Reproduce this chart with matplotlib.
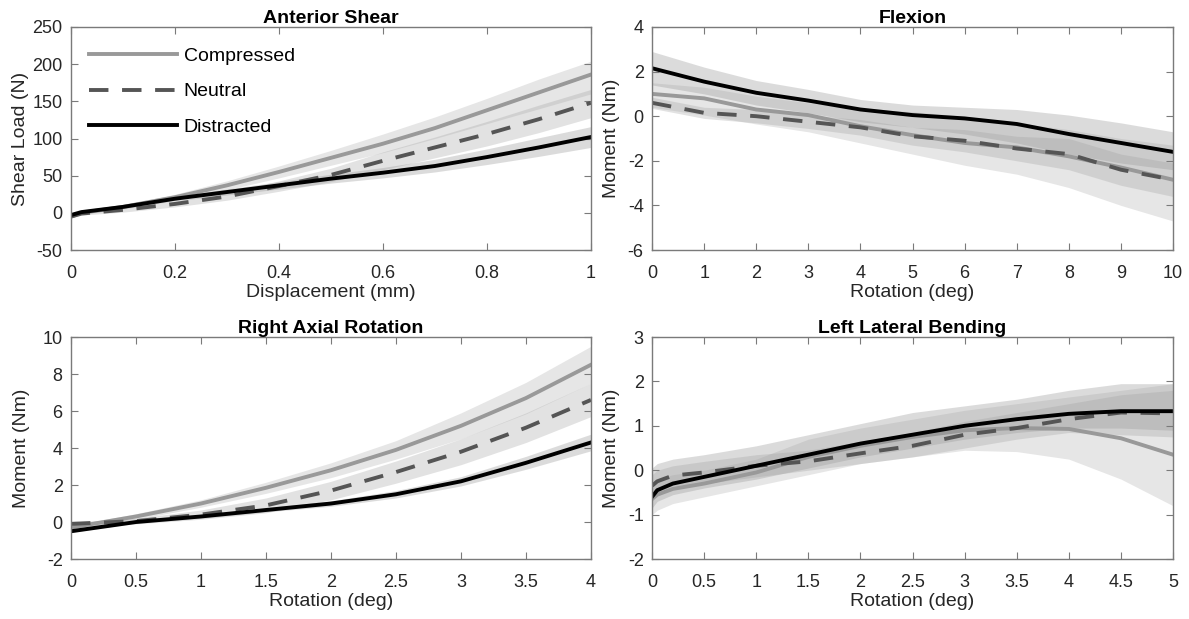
import matplotlib
matplotlib.use("Agg")
import matplotlib.pyplot as plt
import numpy as np

plt.rcParams['font.family'] = ['Liberation Sans', 'DejaVu Sans']

# ---------------- Data ----------------
labels = ["Compressed", "Neutral", "Distracted"]

# Anterior Shear
shear_x = [0, 0.02, 0.1, 0.2, 0.3, 0.4, 0.5, 0.6, 0.7, 0.8, 0.9, 1.0]
shear_comp = [-5, 0, 8, 21, 37, 55, 74, 93, 114, 138, 162, 186]
shear_comp_lo = [-7, -2, 5, 17, 31, 47, 64, 81, 100, 120, 140, 160]
shear_comp_hi = [-3, 2, 11, 25, 43, 63, 84, 106, 129, 154, 180, 204]
shear_neut = [-5, -1, 4, 12, 22, 36, 51, 70, 88, 106, 126, 148]
shear_neut_lo = [-7, -3, 1, 8, 17, 29, 42, 58, 74, 90, 108, 128]
shear_neut_hi = [-3, 1, 7, 16, 27, 43, 60, 82, 102, 123, 145, 166]
shear_dist = [-3, 1, 8, 19, 28, 37, 46, 54, 63, 75, 88, 102]
shear_dist_lo = [-5, -1, 6, 16, 24, 32, 40, 47, 55, 65, 76, 88]
shear_dist_hi = [-1, 3, 10, 22, 32, 42, 52, 61, 72, 86, 101, 116]

# Flexion
flex_x = [0, 1, 2, 3, 4, 5, 6, 7, 8, 9, 10]
flex_comp = [1.0, 0.8, 0.3, 0.05, -0.45, -0.85, -1.2, -1.4, -1.8, -2.3, -2.85]
flex_comp_lo = [0.4, 0.05, -0.35, -0.7, -1.2, -1.7, -2.2, -2.6, -3.2, -4.0, -4.7]
flex_comp_hi = [1.5, 1.3, 0.9, 0.6, 0.35, 0.2, 0.0, -0.3, -0.6, -1.0, -1.3]
flex_neut = [0.6, 0.15, 0.0, -0.25, -0.5, -0.9, -1.1, -1.45, -1.7, -2.4, -2.85]
flex_neut_lo = [0.35, -0.1, -0.3, -0.55, -0.85, -1.3, -1.6, -2.0, -2.4, -3.1, -3.6]
flex_neut_hi = [0.85, 0.4, 0.3, 0.05, -0.15, -0.5, -0.6, -0.9, -1.0, -1.7, -2.1]
flex_dist = [2.15, 1.55, 1.05, 0.7, 0.3, 0.05, -0.1, -0.35, -0.8, -1.2, -1.6]
flex_dist_lo = [1.4, 1.0, 0.5, 0.15, -0.25, -0.5, -0.8, -1.2, -1.7, -2.1, -2.4]
flex_dist_hi = [2.9, 2.2, 1.6, 1.2, 0.75, 0.5, 0.4, 0.3, 0.05, -0.3, -0.7]

# Right Axial Rotation
rot_x = [0, 0.5, 1, 1.5, 2, 2.5, 3, 3.5, 4]
rot_comp = [-0.3, 0.3, 1.0, 1.85, 2.8, 3.9, 5.2, 6.7, 8.5]
rot_comp_lo = [-0.4, 0.15, 0.8, 1.55, 2.4, 3.4, 4.5, 5.85, 7.5]
rot_comp_hi = [-0.2, 0.45, 1.2, 2.15, 3.2, 4.4, 5.9, 7.55, 9.5]
rot_neut = [-0.1, 0.05, 0.4, 0.9, 1.7, 2.7, 3.8, 5.1, 6.6]
rot_neut_lo = [-0.2, -0.1, 0.15, 0.5, 1.2, 2.1, 3.1, 4.3, 5.7]
rot_neut_hi = [0.0, 0.2, 0.65, 1.3, 2.2, 3.3, 4.5, 5.9, 7.5]
rot_dist = [-0.5, 0.0, 0.3, 0.65, 1.0, 1.5, 2.2, 3.2, 4.3]
rot_dist_lo = [-0.55, -0.05, 0.2, 0.55, 0.85, 1.3, 1.95, 2.85, 3.85]
rot_dist_hi = [-0.45, 0.05, 0.4, 0.75, 1.15, 1.7, 2.45, 3.55, 4.75]

# Left Lateral Bending
bend_x = [0, 0.05, 0.2, 0.5, 1, 1.5, 2, 2.5, 3, 3.5, 4, 4.5, 5]
bend_comp = [-0.65, -0.55, -0.42, -0.3, -0.05, 0.3, 0.55, 0.75, 0.9, 0.95, 0.93, 0.72, 0.35]
bend_comp_lo = [-1.0, -0.9, -0.75, -0.6, -0.35, -0.1, 0.15, 0.3, 0.45, 0.42, 0.25, -0.2, -0.8]
bend_comp_hi = [-0.3, -0.2, -0.1, 0.0, 0.25, 0.7, 0.95, 1.15, 1.35, 1.5, 1.65, 1.8, 1.95]
bend_neut = [-0.35, -0.25, -0.12, -0.05, 0.1, 0.2, 0.38, 0.55, 0.8, 0.95, 1.15, 1.3, 1.28]
bend_neut_lo = [-0.6, -0.5, -0.35, -0.3, -0.15, 0.0, 0.15, 0.3, 0.5, 0.7, 0.85, 0.8, 0.75]
bend_neut_hi = [-0.1, 0.0, 0.1, 0.2, 0.35, 0.45, 0.65, 0.85, 1.1, 1.3, 1.5, 1.7, 1.8]
bend_dist = [-0.6, -0.45, -0.3, -0.15, 0.1, 0.35, 0.6, 0.8, 1.0, 1.15, 1.27, 1.33, 1.33]
bend_dist_lo = [-0.85, -0.7, -0.55, -0.4, -0.2, 0.05, 0.3, 0.5, 0.7, 0.85, 0.95, 0.95, 0.9]
bend_dist_hi = [0.05, 0.15, 0.25, 0.35, 0.55, 0.8, 1.05, 1.3, 1.45, 1.6, 1.8, 1.95, 1.95]

# ---------------- Styling ----------------
comp_color = '#999999'
neut_color = '#555555'
dist_color = '#000000'
band_colors = ['#c8c8c8', '#a0a0a0', '#9a9a9a']
band_alpha = [0.45, 0.3, 0.35]
spine_color = '#7a7a7a'
text_color = '#262626'
LW = 2.8
TICK_FS = 13
LABEL_FS = 14
TITLE_FS = 14

fig = plt.figure(figsize=(11.89, 6.19), dpi=100)

panels = [
    dict(rect=[0.0597, 0.5961, 0.4373, 0.3603], title="Anterior Shear",
         xlabel="Displacement (mm)", ylabel="Shear Load (N)", ylab_x=-0.080,
         x=shear_x, series=[(shear_comp, shear_comp_lo, shear_comp_hi),
                            (shear_neut, shear_neut_lo, shear_neut_hi),
                            (shear_dist, shear_dist_lo, shear_dist_hi)],
         xlim=(0, 1), ylim=(-50, 250), xticks=[0, 0.2, 0.4, 0.6, 0.8, 1],
         xticklabels=["0", "0.2", "0.4", "0.6", "0.8", "1"],
         yticks=[-50, 0, 50, 100, 150, 200, 250], legend=True),
    dict(rect=[0.5484, 0.5961, 0.4382, 0.3603], title="Flexion",
         xlabel="Rotation (deg)", ylabel="Moment (Nm)", ylab_x=-0.061,
         x=flex_x, series=[(flex_comp, flex_comp_lo, flex_comp_hi),
                           (flex_neut, flex_neut_lo, flex_neut_hi),
                           (flex_dist, flex_dist_lo, flex_dist_hi)],
         xlim=(0, 10), ylim=(-6, 4), xticks=list(range(0, 11)),
         xticklabels=[str(v) for v in range(0, 11)],
         yticks=[-6, -4, -2, 0, 2, 4], legend=False),
    dict(rect=[0.0597, 0.0969, 0.4373, 0.3586], title="Right Axial Rotation",
         xlabel="Rotation (deg)", ylabel="Moment (Nm)", ylab_x=-0.078,
         x=rot_x, series=[(rot_comp, rot_comp_lo, rot_comp_hi),
                          (rot_neut, rot_neut_lo, rot_neut_hi),
                          (rot_dist, rot_dist_lo, rot_dist_hi)],
         xlim=(0, 4), ylim=(-2, 10), xticks=[0, 0.5, 1, 1.5, 2, 2.5, 3, 3.5, 4],
         xticklabels=["0", "0.5", "1", "1.5", "2", "2.5", "3", "3.5", "4"],
         yticks=[-2, 0, 2, 4, 6, 8, 10], legend=False),
    dict(rect=[0.5484, 0.0969, 0.4382, 0.3586], title="Left Lateral Bending",
         xlabel="Rotation (deg)", ylabel="Moment (Nm)", ylab_x=-0.061,
         x=bend_x, series=[(bend_comp, bend_comp_lo, bend_comp_hi),
                           (bend_neut, bend_neut_lo, bend_neut_hi),
                           (bend_dist, bend_dist_lo, bend_dist_hi)],
         xlim=(0, 5), ylim=(-2, 3), xticks=[0, 0.5, 1, 1.5, 2, 2.5, 3, 3.5, 4, 4.5, 5],
         xticklabels=["0", "0.5", "1", "1.5", "2", "2.5", "3", "3.5", "4", "4.5", "5"],
         yticks=[-2, -1, 0, 1, 2, 3], legend=False),
]

line_styles = [
    dict(color=comp_color, linestyle='-'),
    dict(color=neut_color, linestyle=(0, (5, 3.5))),
    dict(color=dist_color, linestyle='-'),
]

for p in panels:
    ax = fig.add_axes(p['rect'])
    x = np.array(p['x'], dtype=float)
    for (y, lo, hi), bc, ba in zip(p['series'], band_colors, band_alpha):
        ax.fill_between(x, lo, hi, color=bc, alpha=ba, linewidth=0)
    handles = []
    for (y, lo, hi), st, lab in zip(p['series'], line_styles, labels):
        h, = ax.plot(x, y, linewidth=LW, label=lab, **st)
        handles.append(h)
    ax.set_xlim(*p['xlim'])
    ax.set_ylim(*p['ylim'])
    ax.set_xticks(p['xticks'])
    ax.set_xticklabels(p['xticklabels'])
    ax.set_yticks(p['yticks'])
    ax.set_yticklabels([str(v) for v in p['yticks']])
    ax.tick_params(direction='in', top=True, right=True, length=5, width=0.8,
                   color=spine_color, labelsize=TICK_FS, labelcolor=text_color)
    ax.tick_params(axis='x', pad=10.5)
    ax.tick_params(axis='y', pad=6)
    for s in ax.spines.values():
        s.set_color(spine_color)
        s.set_linewidth(1.0)
    ax.set_title(p['title'], fontsize=TITLE_FS, fontweight='bold', color='#000000', pad=3)
    ax.set_xlabel(p['xlabel'], fontsize=LABEL_FS, color=text_color, labelpad=2)
    ax.set_ylabel(p['ylabel'], fontsize=LABEL_FS, color=text_color)
    ax.yaxis.set_label_coords(p['ylab_x'], 0.5)
    if p['legend']:
        ax.legend(handles=handles, loc='upper left', frameon=False, fontsize=14,
                  handlelength=4.5, labelspacing=0.93, handletextpad=0.36,
                  borderaxespad=0.0, bbox_to_anchor=(0.02, 0.945))

fig.savefig("out.png", dpi=100)
